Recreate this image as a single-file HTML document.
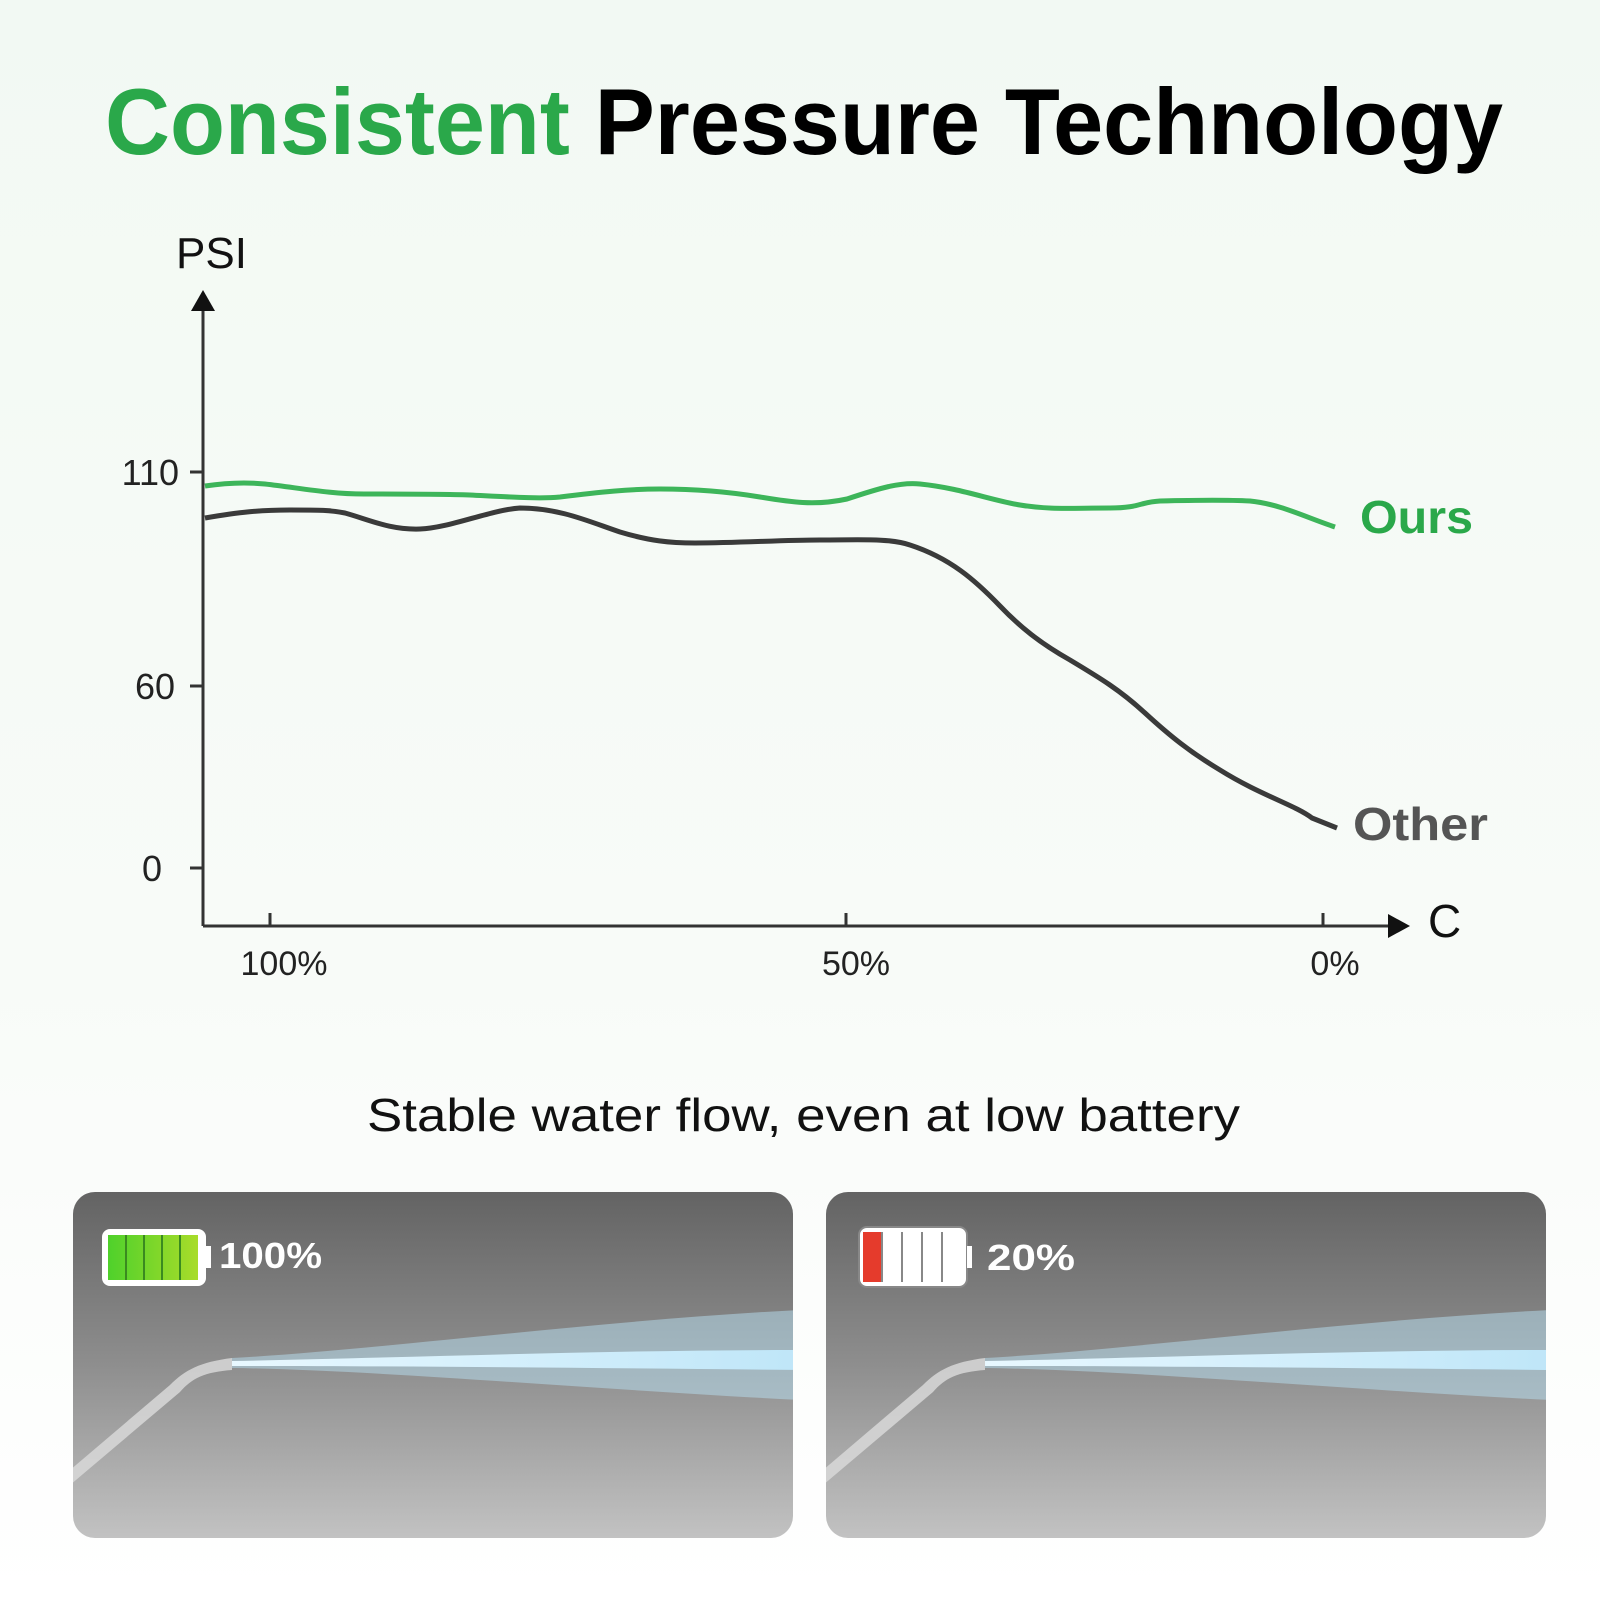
<!DOCTYPE html>
<html><head><meta charset="utf-8"><style>
html,body{margin:0;padding:0;width:1600px;height:1600px;overflow:hidden;background:#fff}
</style></head><body>
<svg width="1600" height="1600" viewBox="0 0 1600 1600" xmlns="http://www.w3.org/2000/svg" font-family="Liberation Sans, sans-serif">
<defs>
<linearGradient id="bg" x1="0" y1="0" x2="0" y2="1"><stop offset="0" stop-color="#f2f9f3"/><stop offset="0.6" stop-color="#f8fbf8"/><stop offset="1" stop-color="#ffffff"/></linearGradient>
<linearGradient id="pn" x1="0" y1="0" x2="0" y2="1"><stop offset="0" stop-color="#636363"/><stop offset="0.5" stop-color="#8e8e8e"/><stop offset="1" stop-color="#c2c2c2"/></linearGradient>
<linearGradient id="sp" x1="0" y1="0" x2="1" y2="0"><stop offset="0" stop-color="#e8f8ff"/><stop offset="1" stop-color="#bfe6f8"/></linearGradient>
<linearGradient id="gb" x1="0" y1="0" x2="1" y2="0"><stop offset="0" stop-color="#4fd12b"/><stop offset="1" stop-color="#a8dc2a"/></linearGradient>
<clipPath id="c1"><rect x="73" y="1192" width="720" height="346" rx="22"/></clipPath>
<clipPath id="c2"><rect x="826" y="1192" width="720" height="346" rx="22"/></clipPath>
</defs>
<rect width="1600" height="1600" fill="url(#bg)"/>
<text x="105" y="154" font-size="94" font-weight="bold" textLength="1398" lengthAdjust="spacingAndGlyphs"><tspan fill="#2aa84a">Consistent</tspan><tspan fill="#000"> Pressure Technology</tspan></text>
<text x="176" y="268" font-size="44" fill="#111">PSI</text>
<g stroke="#333" stroke-width="3" fill="none">
<line x1="203" y1="305" x2="203" y2="926"/>
<line x1="203" y1="926" x2="1390" y2="926"/>
<line x1="190" y1="472" x2="203" y2="472"/><line x1="190" y1="686" x2="203" y2="686"/><line x1="190" y1="868" x2="203" y2="868"/>
<line x1="270" y1="913" x2="270" y2="926"/><line x1="846" y1="913" x2="846" y2="926"/><line x1="1323" y1="913" x2="1323" y2="926"/>
</g>
<polygon points="203,290 191,311 215,311" fill="#111"/>
<polygon points="1410,926 1388,914 1388,938" fill="#111"/>
<g font-size="36" fill="#222" text-anchor="end">
<text x="179" y="485">110</text><text x="175" y="699">60</text><text x="162" y="881">0</text>
</g>
<g font-size="34" fill="#222" text-anchor="middle">
<text x="284" y="975">100%</text><text x="856" y="975">50%</text><text x="1335" y="975">0%</text>
</g>
<text x="1428" y="937" font-size="46" fill="#111">C</text>
<path d="M205,486 C225,483 245,482 265,484 C300,488 330,494 364,494 C410,494 440,494 470,495 C510,497 540,499 560,497 C600,492 630,489 660,489 C700,489 730,492 760,497 C790,502 815,506 847,499 C880,488 900,482 920,484 C960,488 990,500 1020,505 C1050,510 1070,508 1110,508 C1140,508 1140,502 1160,501 C1200,500 1230,500 1250,501 C1280,504 1305,517 1335,527" stroke="#3db55a" stroke-width="5" fill="none"/>
<path d="M205,518 C240,512 260,510 290,510 C320,510 330,510 345,513 C370,520 390,530 420,529 C450,528 490,510 520,508 C560,508 590,522 620,532 C650,541 670,543 695,543 C740,543 780,540 820,540 C860,540 890,538 910,545 C950,558 975,580 1000,606 C1020,627 1040,643 1070,660 C1100,678 1120,690 1145,713 C1170,736 1190,752 1220,770 C1260,795 1295,805 1312,818 L1337,828" stroke="#3a3a3a" stroke-width="5" fill="none"/>
<text x="1360" y="533" font-size="46" font-weight="bold" fill="#2aa84a" textLength="113" lengthAdjust="spacingAndGlyphs">Ours</text>
<text x="1353" y="840" font-size="46" font-weight="bold" fill="#555" textLength="135" lengthAdjust="spacingAndGlyphs">Other</text>
<text x="367" y="1131" font-size="46" fill="#111" textLength="873" lengthAdjust="spacingAndGlyphs">Stable water flow, even at low battery</text>
<g clip-path="url(#c1)">
<rect x="73" y="1192" width="720" height="346" fill="url(#pn)"/>
<path d="M232,1358 C380,1350 600,1320 800,1310 L800,1400 C600,1390 380,1370 232,1368 Z" fill="#b8e0f2" opacity="0.5"/>
<path d="M232,1361 C400,1358 600,1350 800,1350 L800,1370 C600,1368 400,1366 232,1366 Z" fill="url(#sp)"/>
<path d="M70,1470 L170,1385 C185,1370 200,1362 232,1358 L232,1370 C205,1372 192,1378 180,1392 L70,1485 Z" fill="#d8d8d8" opacity="0.85"/>
<rect x="102" y="1229" width="104" height="57" rx="8" fill="#fff"/>
<rect x="108" y="1235" width="90" height="45" fill="url(#gb)"/>
<g stroke="#3a8a20" stroke-width="2"><line x1="126" y1="1235" x2="126" y2="1280"/><line x1="144" y1="1235" x2="144" y2="1280"/><line x1="162" y1="1235" x2="162" y2="1280"/><line x1="180" y1="1235" x2="180" y2="1280"/></g>
<rect x="206" y="1246" width="5" height="22" fill="#fff"/>
<text x="219" y="1268" font-size="36" font-weight="bold" fill="#fff" textLength="103" lengthAdjust="spacingAndGlyphs">100%</text>
</g>
<g clip-path="url(#c2)">
<rect x="826" y="1192" width="720" height="346" fill="url(#pn)"/>
<path d="M985,1358 C1130,1350 1350,1320 1550,1310 L1550,1400 C1350,1390 1130,1370 985,1368 Z" fill="#b8e0f2" opacity="0.5"/>
<path d="M985,1361 C1150,1358 1350,1350 1550,1350 L1550,1370 C1350,1368 1150,1366 985,1366 Z" fill="url(#sp)"/>
<path d="M823,1470 L923,1385 C938,1370 953,1362 985,1358 L985,1370 C958,1372 945,1378 933,1392 L823,1485 Z" fill="#d8d8d8" opacity="0.85"/>
<rect x="859" y="1227" width="108" height="60" rx="8" fill="#fff" stroke="#888" stroke-width="2"/>
<rect x="863" y="1232" width="19" height="50" fill="#e53b2c"/>
<g stroke="#888" stroke-width="2"><line x1="882" y1="1232" x2="882" y2="1282"/><line x1="902" y1="1232" x2="902" y2="1282"/><line x1="922" y1="1232" x2="922" y2="1282"/><line x1="942" y1="1232" x2="942" y2="1282"/></g>
<rect x="967" y="1246" width="5" height="22" fill="#fff"/>
<text x="987" y="1270" font-size="36" font-weight="bold" fill="#fff" textLength="88" lengthAdjust="spacingAndGlyphs">20%</text>
</g>
</svg>
</body></html>
